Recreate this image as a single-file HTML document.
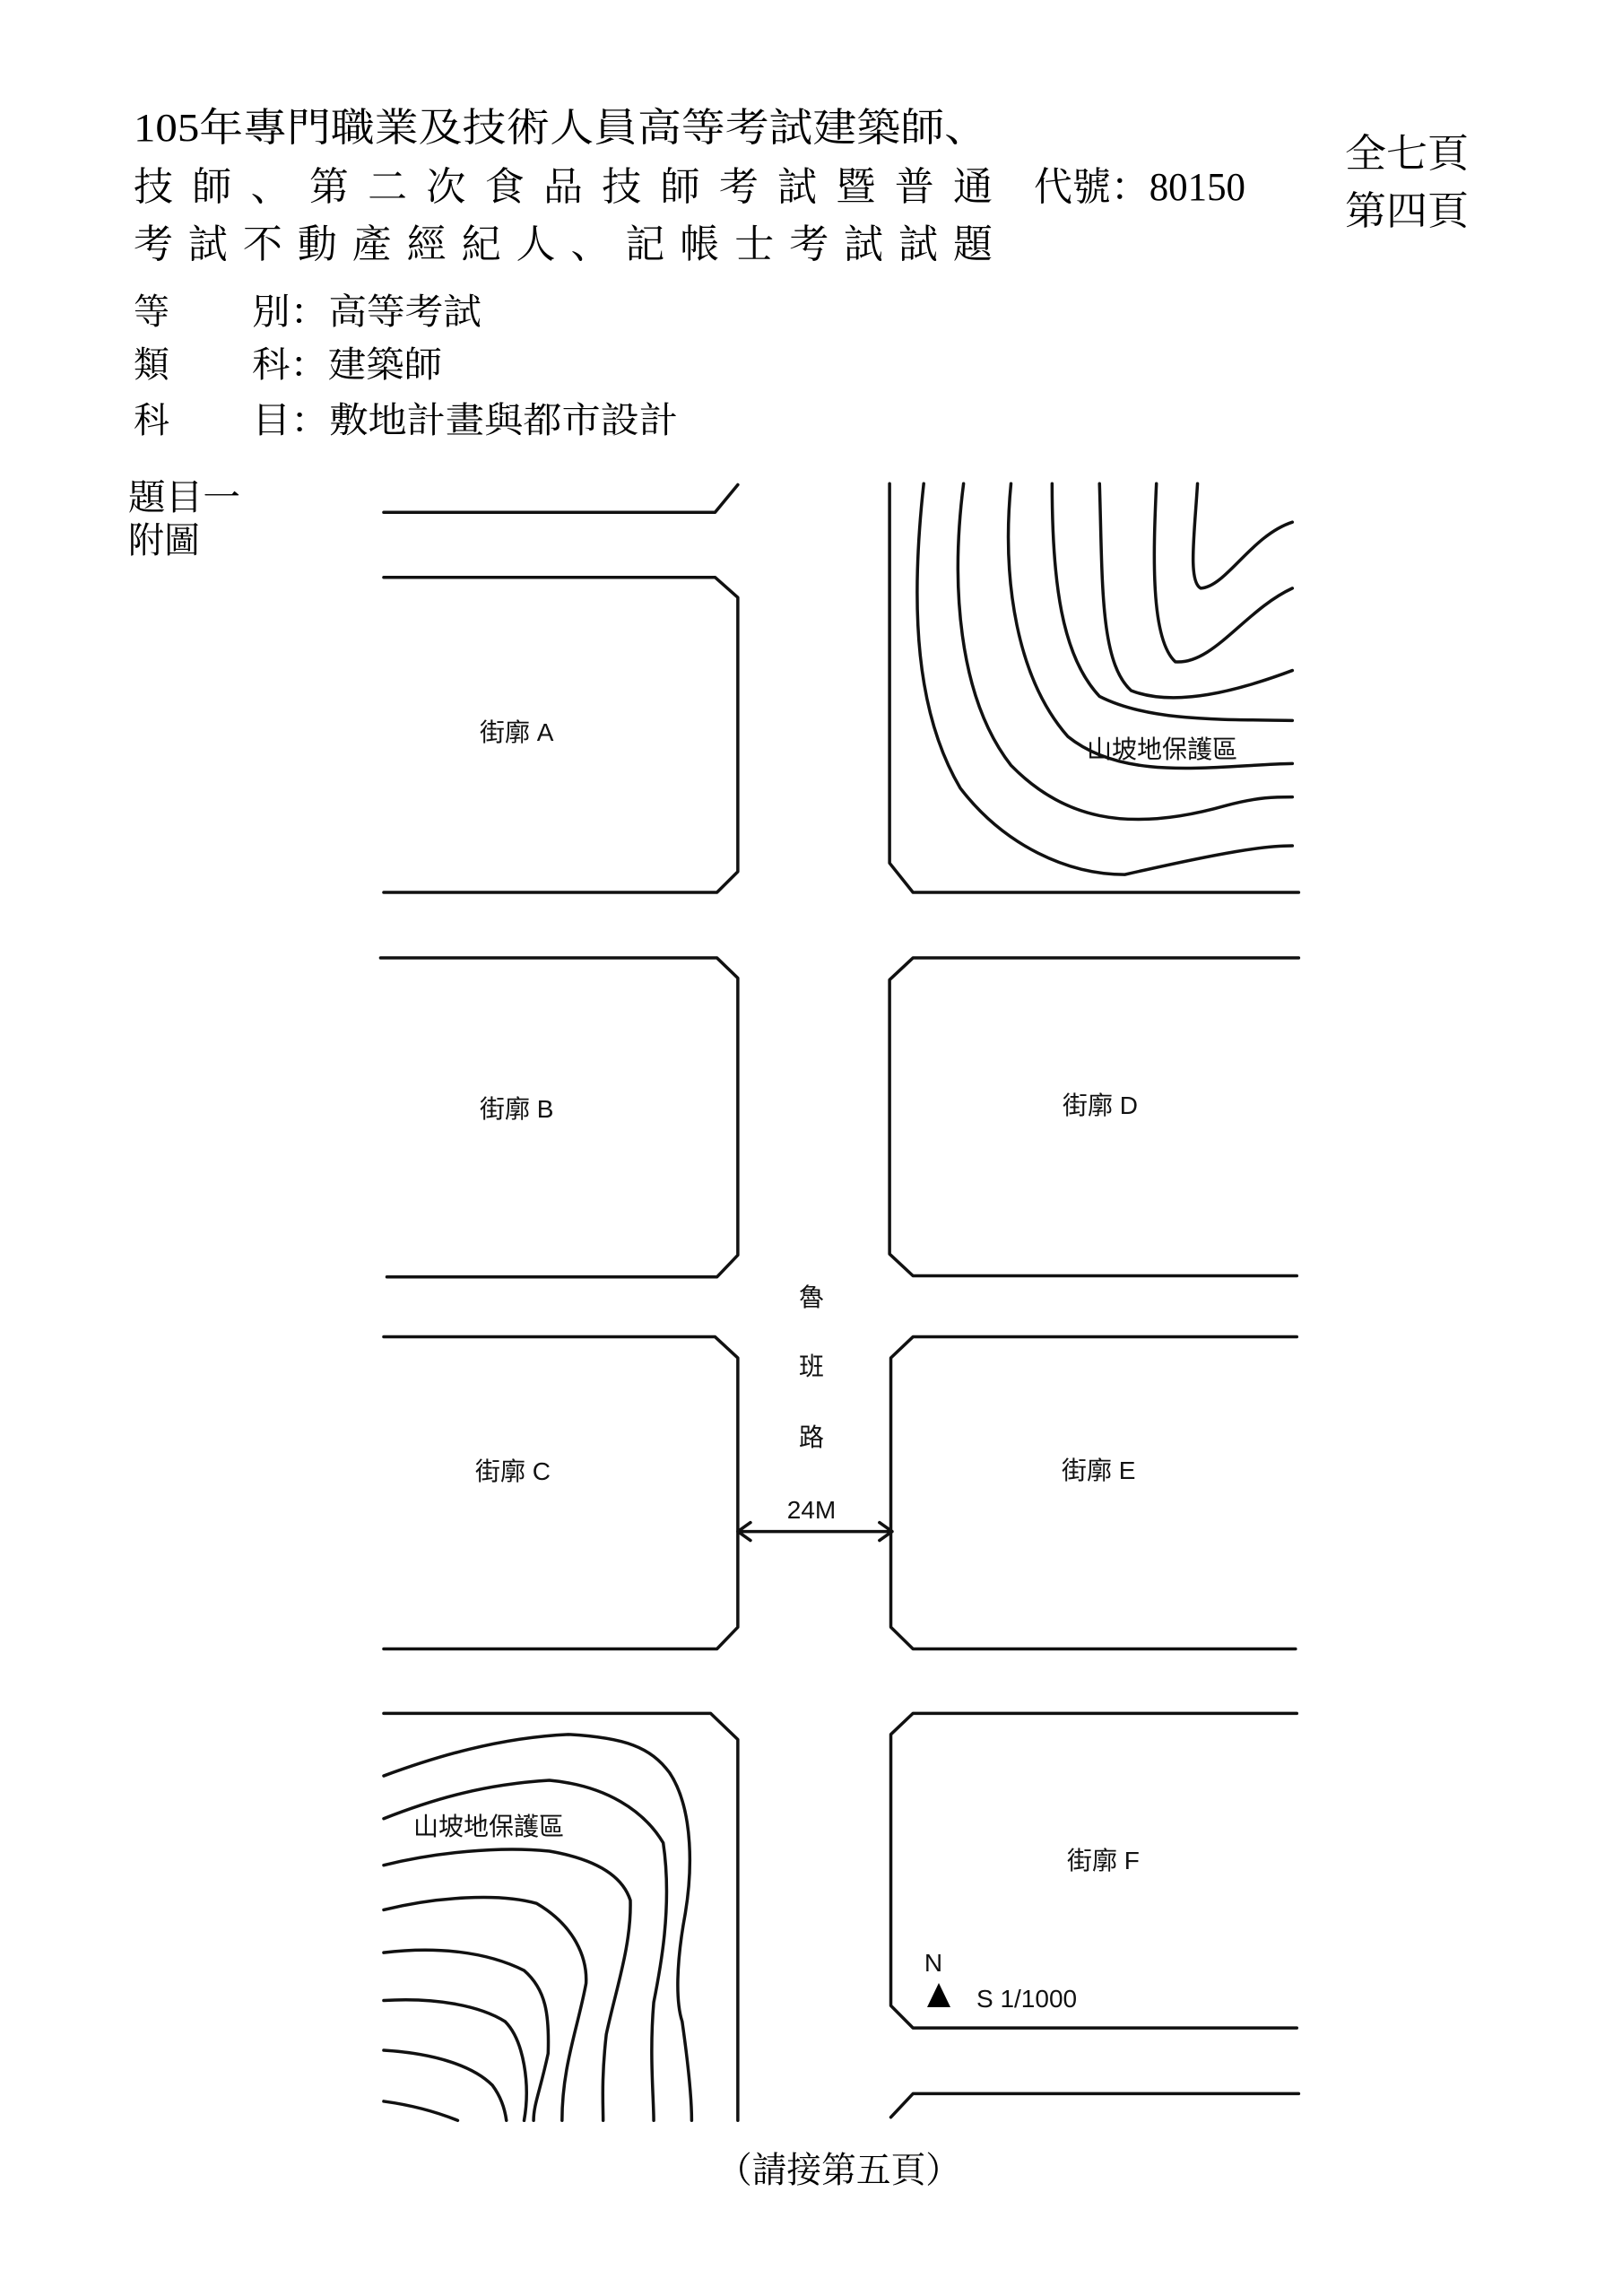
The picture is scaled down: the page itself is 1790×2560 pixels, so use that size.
<!DOCTYPE html>
<html><head><meta charset="utf-8"><style>
html,body{margin:0;padding:0;background:#fff;}
svg{display:block;}
.h{font-family:"Liberation Serif","Noto Serif CJK SC",serif;font-size:44px;fill:#000;}
.s{font-family:"Liberation Serif","Noto Serif CJK SC",serif;font-size:40px;fill:#000;}
.l{font-family:"Liberation Sans","Noto Sans CJK TC",sans-serif;font-size:28px;fill:#111;}
path{vector-effect:non-scaling-stroke;}
</style></head><body>
<svg width="1790" height="2560" viewBox="0 0 1790 2560" xmlns="http://www.w3.org/2000/svg">
<rect width="1790" height="2560" fill="#fff"/>
<text class="h" x="149" y="157" textLength="953" lengthAdjust="spacingAndGlyphs">105年專門職業及技術人員高等考試建築師、</text>
<text class="h" x="149" y="223" textLength="958" lengthAdjust="spacing">技師、第二次食品技師考試暨普通</text>
<text class="h" x="1153" y="223" textLength="236" lengthAdjust="spacingAndGlyphs">代號：80150</text>
<text class="h" x="149" y="287" textLength="958" lengthAdjust="spacing">考試不動產經紀人、記帳士考試試題</text>
<text class="h" x="1500" y="186" textLength="138" lengthAdjust="spacingAndGlyphs">全七頁</text>
<text class="h" x="1500" y="250" textLength="138" lengthAdjust="spacingAndGlyphs">第四頁</text>
<text class="s" x="149" y="361">等</text><text class="s" x="281" y="361" textLength="256" lengthAdjust="spacingAndGlyphs">別：高等考試</text>
<text class="s" x="149" y="420">類</text><text class="s" x="281" y="420" textLength="212" lengthAdjust="spacingAndGlyphs">科：建築師</text>
<text class="s" x="149" y="482">科</text><text class="s" x="281" y="482" textLength="475" lengthAdjust="spacingAndGlyphs">目：敷地計畫與都市設計</text>
<text class="s" x="143" y="568" textLength="125" lengthAdjust="spacingAndGlyphs">題目一</text>
<text class="s" x="143" y="616" textLength="80" lengthAdjust="spacingAndGlyphs">附圖</text>

<g transform="translate(380,520) scale(0.7052,0.641)" fill="none" stroke="#111" stroke-width="3.5" stroke-linejoin="round" stroke-linecap="round">
<path d="M68,80 L592,80 L628,32"/>
<path d="M68,193 L592,193 L628,228 L628,705 L595,741 L68,741"/>
<path d="M868,30 L868,690 L905,741 L1515,741"/>
<path d="M63,855 L595,855 L628,890 L628,1372 L595,1410 L73,1410"/>
<path d="M1515,855 L905,855 L868,893 L868,1370 L905,1408 L1512,1408"/>
<path d="M1355,30 C1350,120 1340,200 1360,212 C1400,210 1440,120 1505,97"/>
<path d="M1290,30 C1285,150 1280,300 1320,340 C1380,345 1430,250 1505,212"/>
<path d="M1200,30 C1205,200 1200,340 1250,390 C1320,420 1420,390 1505,355"/>
<path d="M1125,30 C1125,200 1140,330 1200,400 C1280,445 1400,440 1505,442"/>
<path d="M1060,30 C1045,200 1070,370 1150,470 C1240,550 1380,520 1505,517"/>
<path d="M985,30 C965,200 975,400 1060,520 C1140,610 1240,640 1400,590 C1450,575 1480,575 1505,575"/>
<path d="M922,30 C900,250 910,430 980,560 C1050,660 1150,710 1240,710 C1400,670 1460,660 1505,660"/>
</g>
<text class="l" x="535" y="826">街廓 A</text>
<text class="l" x="535" y="1246">街廓 B</text>
<text class="l" x="1185" y="1242">街廓 D</text>
<text class="l" x="1212" y="845">山坡地保護區</text>
<text class="l" x="905" y="1456" text-anchor="middle">魯</text>

<g transform="translate(380,1450) scale(0.7052,0.7115)" fill="none" stroke="#111" stroke-width="3.5" stroke-linejoin="round" stroke-linecap="round">
<path d="M68,57 L592,57 L628,90 L628,512 L595,546 L68,546"/>
<path d="M1512,57 L905,57 L870,90 L870,512 L905,546 L1510,546"/>
<path d="M68,647 L585,647 L628,688 L628,1285"/>
<path d="M1512,647 L905,647 L870,680 L870,1105 L905,1140 L1512,1140"/>
<path d="M1515,1243 L905,1243 L870,1280"/>
<path d="M628,362 L872,362 M648,348 L628,362 L648,376 M852,348 L872,362 L852,376"/>
<path d="M68,745 C150,715 250,685 360,680 C450,685 490,700 520,740 C560,800 555,900 545,960 C530,1040 530,1100 540,1130 C550,1200 555,1250 555,1285"/>
<path d="M68,812 C150,780 230,758 330,752 C420,760 480,800 510,850 C525,950 505,1050 495,1100 C488,1180 495,1250 495,1285"/>
<path d="M68,885 C150,865 250,855 330,863 C400,875 445,900 458,940 C460,1010 435,1080 420,1150 C412,1220 415,1260 415,1285"/>
<path d="M68,955 C150,935 250,928 310,945 C370,980 390,1030 388,1070 C375,1140 350,1200 350,1285"/>
<path d="M68,1022 C150,1012 230,1020 290,1050 C325,1080 330,1120 328,1180 C315,1240 305,1260 305,1285"/>
<path d="M68,1097 C150,1092 220,1105 260,1130 C290,1160 300,1230 290,1285"/>
<path d="M68,1175 C150,1180 210,1200 240,1230 C255,1250 260,1270 262,1285"/>
<path d="M68,1255 C120,1262 160,1275 185,1285"/>
</g>
<text class="l" x="905" y="1533" text-anchor="middle">班</text>
<text class="l" x="905" y="1612" text-anchor="middle">路</text>
<text class="l" x="905" y="1693" text-anchor="middle">24M</text>
<text class="l" x="530" y="1650">街廓 C</text>
<text class="l" x="1184" y="1649">街廓 E</text>
<text class="l" x="1190" y="2084">街廓 F</text>
<text class="l" x="461" y="2046">山坡地保護區</text>
<text class="l" x="1041" y="2198" text-anchor="middle">N</text>
<polygon points="1047,2211 1034,2238 1060,2238" fill="#000"/>
<text class="l" x="1089" y="2238">S 1/1000</text>
<text class="s" x="800" y="2433" textLength="271" lengthAdjust="spacingAndGlyphs">（請接第五頁）</text>
</svg>
</body></html>
